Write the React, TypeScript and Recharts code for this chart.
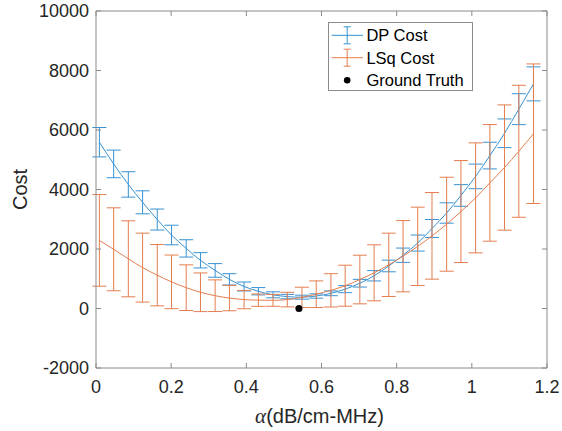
import React from 'react';
import { ComposedChart, Line, ErrorBar, Scatter, XAxis, YAxis, Legend } from 'recharts';

const alpha = [0.009, 0.047, 0.086, 0.124, 0.163, 0.201, 0.24, 0.278, 0.317, 0.355, 0.394, 0.432, 0.471, 0.509, 0.548, 0.586, 0.625, 0.663, 0.702, 0.74, 0.779, 0.817, 0.856, 0.894, 0.933, 0.971, 1.01, 1.048, 1.087, 1.125, 1.164];
const dpCost = [5590, 4860, 4170, 3570, 2990, 2470, 2020, 1620, 1280, 980, 740, 580, 460, 400, 380, 420, 510, 650, 850, 1100, 1430, 1790, 2200, 2690, 3210, 3800, 4440, 5140, 5890, 6700, 7550];
const dpErr = [494, 464, 427, 386, 353, 329, 291, 257, 229, 190, 151, 123, 101, 75, 67, 73, 80, 118, 129, 174, 196, 241, 269, 302, 342, 364, 414, 448, 482, 520, 571];
const lsqCost = [2290, 1990, 1670, 1375, 1120, 895, 700, 545, 430, 350, 300, 280, 275, 300, 375, 480, 610, 766, 974, 1200, 1468, 1758, 2090, 2442, 2833, 3259, 3719, 4223, 4738, 5285, 5875];
const lsqErr = [1540, 1394, 1277, 1159, 1030, 902, 767, 650, 532, 426, 308, 207, 200, 245, 340, 448, 560, 689, 817, 941, 1064, 1198, 1316, 1456, 1579, 1714, 1848, 1960, 2106, 2218, 2346];
const groundTruthAlpha = [0.54];
const groundTruthCost = [0];
const xTicks = [0, 0.2, 0.4, 0.6, 0.8, 1, 1.2];
const yTicks = [-2000, 0, 2000, 4000, 6000, 8000, 10000];
const legendLabels = ['DP Cost', 'LSq Cost', 'Ground Truth'];

const BLUE = '#3792d3';
const ORANGE = '#e47e50';
const AXIS = '#8a8a8a';
const TEXT = '#262626';
const FONT = '"Liberation Sans", Arial, Helvetica, sans-serif';
const TICK_LEN = 5;
const XM = 12; // gap from x axis line to tick label
const YM = 7; // gap from y axis line to tick label

const data = alpha.map((a, i) => ({
  a,
  dp: dpCost[i],
  dpErr: dpErr[i],
  lsq: lsqCost[i],
  lsqErr: lsqErr[i],
}));
const gtData = groundTruthAlpha.map((a, i) => ({ a, gt: groundTruthCost[i] }));

const BottomTick = (p: any) => {
  const axisY = p.y - XM;
  return (
    <g>
      <line x1={p.x} x2={p.x} y1={axisY} y2={axisY - TICK_LEN} stroke={AXIS} strokeWidth={1} />
      <text x={p.x} y={p.y} dy="0.71em" textAnchor="middle" fontSize={18} fontFamily={FONT} fill={TEXT}>
        {String(p.payload.value)}
      </text>
    </g>
  );
};
const TopTick = (p: any) => {
  const axisY = p.y + 2;
  return <line x1={p.x} x2={p.x} y1={axisY} y2={axisY + TICK_LEN} stroke={AXIS} strokeWidth={1} />;
};
const LeftTick = (p: any) => {
  const axisX = p.x + YM;
  return (
    <g>
      <line x1={axisX} x2={axisX + TICK_LEN} y1={p.y} y2={p.y} stroke={AXIS} strokeWidth={1} />
      <text x={p.x} y={p.y} dy="0.355em" textAnchor="end" fontSize={18} fontFamily={FONT} fill={TEXT}>
        {String(p.payload.value)}
      </text>
    </g>
  );
};
const RightTick = (p: any) => {
  const axisX = p.x - 2;
  return <line x1={axisX} x2={axisX - TICK_LEN} y1={p.y} y2={p.y} stroke={AXIS} strokeWidth={1} />;
};

const ErrSymbol = ({ y, color }: { y: number; color: string }) => (
  <g stroke={color} strokeWidth={1}>
    <line x1={3.5} x2={35} y1={y} y2={y} />
    <line x1={19.2} x2={19.2} y1={y - 8.5} y2={y + 8.5} />
    <line x1={15.7} x2={22.7} y1={y - 8.5} y2={y - 8.5} />
    <line x1={15.7} x2={22.7} y1={y + 8.5} y2={y + 8.5} />
  </g>
);

const LegendBox = () => {
  const rows = [13.3, 35.7, 58.2];
  return (
    <svg width={146} height={70} style={{ display: 'block' }}>
      <rect x={0.5} y={0.5} width={144} height={68} fill="#fff" stroke="#8c8c8c" strokeWidth={1} />
      <ErrSymbol y={rows[0]} color={BLUE} />
      <ErrSymbol y={rows[1]} color={ORANGE} />
      <circle cx={19.2} cy={rows[2]} r={3.3} fill="#000" />
      {legendLabels.map((t, i) => (
        <text key={t} x={38.4} y={rows[i] + 6} fontSize={16.5} fontFamily={FONT} fill="#000">
          {t}
        </text>
      ))}
    </svg>
  );
};

const XLabel = (props: any) => {
  const vb = props.viewBox || { x: 96, y: 368, width: 451 };
  return (
    <text x={vb.x + vb.width / 2 - 2} y={vb.y + 55} textAnchor="middle" fontSize={20} fontFamily={FONT} fill={TEXT}>
      <tspan fontFamily='"Liberation Serif", "DejaVu Serif", serif' fontStyle="italic" fontSize={21}>α</tspan>
      <tspan>(dB/cm-MHz)</tspan>
    </text>
  );
};

const YLabel = (props: any) => {
  const vb = props.viewBox || { x: 0, y: 11, height: 357 };
  const cy = vb.y + vb.height / 2;
  return (
    <text x={27} y={cy} transform={`rotate(-90, 27, ${cy})`} textAnchor="middle" fontSize={20} fontFamily={FONT} fill={TEXT}>
      Cost
    </text>
  );
};

const Dot = (props: any) => <circle cx={props.cx} cy={props.cy} r={3.5} fill="#000" />;

export default function App() {
  return (
    <div style={{ position: 'absolute', left: 0, top: 0, width: 562, height: 431, background: '#fff' }}>
      <ComposedChart width={562} height={431} data={data} margin={{ top: 9, right: 13, bottom: 0, left: 0 }}>
        <XAxis
          xAxisId={0}
          dataKey="a"
          type="number"
          domain={[0, 1.2]}
          allowDataOverflow
          ticks={xTicks}
          height={63}
          stroke={AXIS}
          tickLine={false}
          tickSize={0}
          tickMargin={XM}
          tick={<BottomTick />}
          label={<XLabel />}
        />
        <XAxis
          xAxisId="top"
          orientation="top"
          dataKey="a"
          type="number"
          domain={[0, 1.2]}
          allowDataOverflow
          ticks={xTicks}
          height={2}
          stroke={AXIS}
          tickLine={false}
          tickSize={0}
          tickMargin={2}
          tick={<TopTick />}
        />
        <YAxis
          yAxisId={0}
          type="number"
          domain={[-2000, 10000]}
          allowDataOverflow
          ticks={yTicks}
          width={96}
          stroke={AXIS}
          tickLine={false}
          tickSize={0}
          tickMargin={YM}
          tick={<LeftTick />}
          label={<YLabel />}
        />
        <YAxis
          yAxisId="right"
          orientation="right"
          type="number"
          domain={[-2000, 10000]}
          allowDataOverflow
          ticks={yTicks}
          width={2}
          stroke={AXIS}
          tickLine={false}
          tickSize={0}
          tickMargin={2}
          tick={<RightTick />}
        />
        <Line
          xAxisId="top"
          yAxisId="right"
          dataKey="dp"
          stroke="none"
          strokeWidth={0}
          dot={false}
          activeDot={false}
          legendType="none"
          isAnimationActive={false}
        />
        <Line
          xAxisId={0}
          yAxisId={0}
          dataKey="dp"
          type="monotone"
          stroke={BLUE}
          strokeWidth={1}
          dot={false}
          isAnimationActive={false}
        >
          <ErrorBar dataKey="dpErr" direction="y" width={7} stroke={BLUE} strokeWidth={1} isAnimationActive={false} />
        </Line>
        <Line
          xAxisId={0}
          yAxisId={0}
          dataKey="lsq"
          type="monotone"
          stroke={ORANGE}
          strokeWidth={1}
          dot={false}
          isAnimationActive={false}
        >
          <ErrorBar dataKey="lsqErr" direction="y" width={7} stroke={ORANGE} strokeWidth={1} isAnimationActive={false} />
        </Line>
        <Scatter
          xAxisId={0}
          yAxisId={0}
          data={gtData}
          dataKey="gt"
          shape={<Dot />}
          isAnimationActive={false}
        />
        <Legend
          layout="horizontal"
          verticalAlign="middle"
          align="center"
          content={<LegendBox />}
          wrapperStyle={{ left: 328, top: 22, width: 146, height: 70 }}
        />
      </ComposedChart>
    </div>
  );
}
